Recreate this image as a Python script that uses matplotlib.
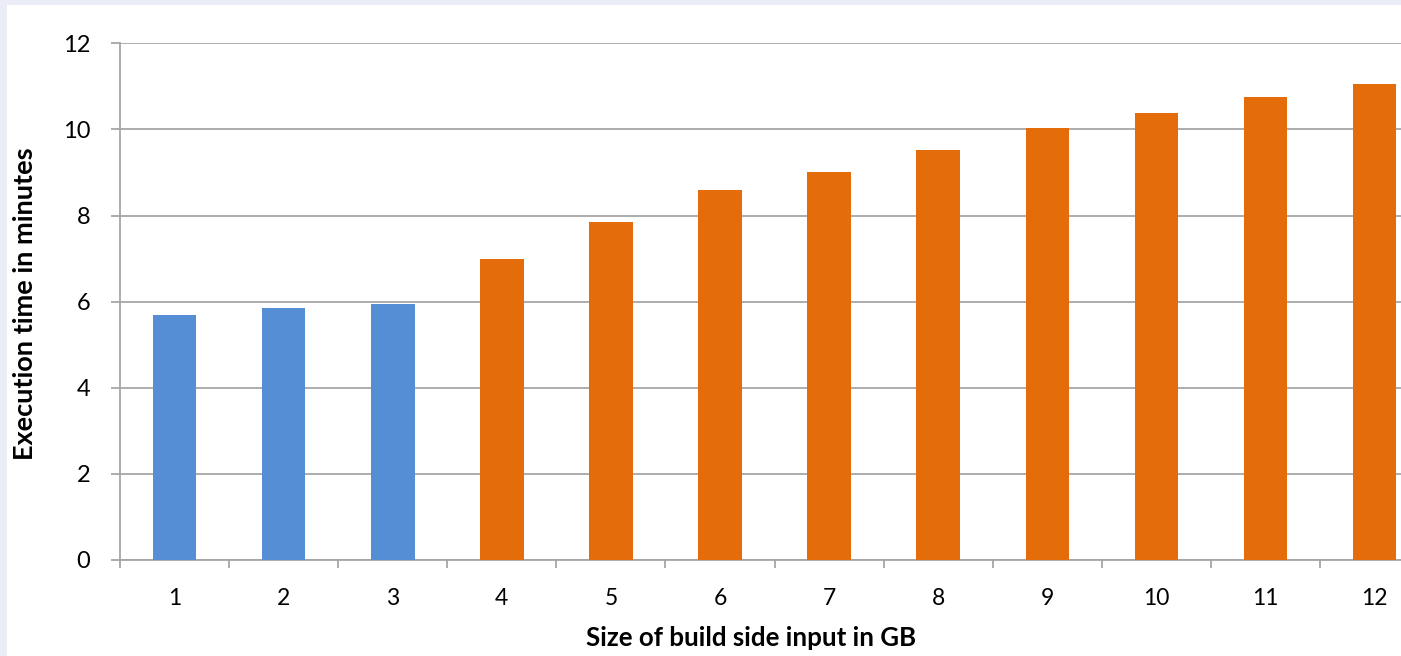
import matplotlib.pyplot as plt
from matplotlib.patches import Rectangle

# build side input sizes (GB) and measured execution times (minutes)
sizes = ["1", "2", "3", "4", "5", "6", "7", "8", "9", "10", "11", "12"]
exec_minutes = [5.70, 5.85, 5.95, 7.00, 7.84, 8.60, 9.00, 9.53, 10.04, 10.39, 10.75, 11.05]
fits_in_memory = [True, True, True, False, False, False, False, False, False, False, False, False]

blue = "#558ed5"
orange = "#e46c0a"
grid_grey = "#a6a6a6"

plt.rcParams["font.family"] = ["Lato", "DejaVu Sans"]

W, H = 1401, 656
fig = plt.figure(figsize=(W / 100, H / 100), dpi=100, facecolor="#eaedf5")
# white slide area
fig.patches.append(Rectangle((7 / W, 0), 1, 1 - 5 / H, transform=fig.transFigure,
                             facecolor="white", edgecolor="none", zorder=-10))

left, bottom, top = 120 / W, 1 - 560 / H, 1 - 43.3 / H
width = 12 * 109.1 / W
ax = fig.add_axes([left, bottom, width, top - bottom])
ax.set_facecolor("white")

x = list(range(len(sizes)))
colors = [blue if f else orange for f in fits_in_memory]
ax.bar(x, exec_minutes, width=0.40, color=colors, zorder=3)

ax.set_xlim(-0.5, len(sizes) - 0.5)
ax.set_ylim(0, 12)
ax.set_yticks(range(0, 13, 2))
ax.yaxis.grid(True, color=grid_grey, linewidth=1.3, zorder=0)
ax.set_axisbelow(True)

ax.set_xticks(x)
ax.set_xticklabels(sizes)
ax.set_xticks([i - 0.5 for i in range(len(sizes) + 1)], minor=True)

for s in ["top", "right"]:
    ax.spines[s].set_visible(False)
for s in ["left", "bottom"]:
    ax.spines[s].set_color(grid_grey)
    ax.spines[s].set_linewidth(1.3)

ax.tick_params(axis="y", length=6.5, width=1.3, color=grid_grey, pad=15, labelsize=17)
ax.tick_params(axis="x", which="major", length=0, pad=20, labelsize=16.5)
ax.tick_params(axis="x", which="minor", length=5.8, width=1.3, color=grid_grey)

fig.text(751 / W, 1 - 638 / H, "Size of build side input in GB", ha="center", va="center",
         fontsize=18.6, fontweight="bold")
fig.text(25 / W, 1 - 303.5 / H, "Execution time in minutes", ha="center", va="center",
         rotation=90, fontsize=19.5, fontweight="bold")

fig.savefig("out.png", dpi=100, facecolor=fig.get_facecolor())
